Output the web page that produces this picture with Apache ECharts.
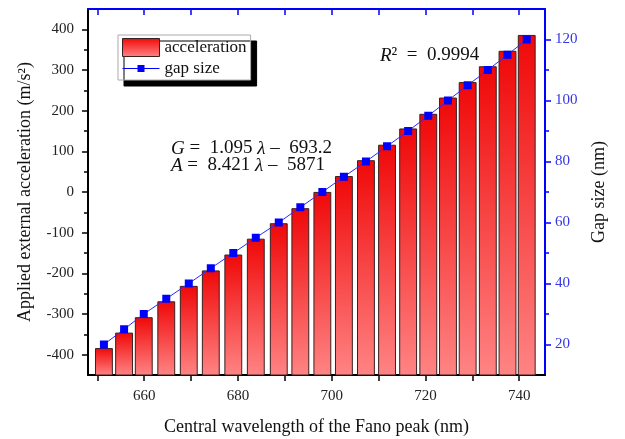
<!DOCTYPE html>
<html>
<head>
<meta charset="utf-8">
<script src="https://cdn.jsdelivr.net/npm/echarts@6/dist/echarts.min.js"></script>
<style>
html, body { margin: 0; padding: 0; background: #fff; }
#main { width: 625px; height: 439px; }
</style>
</head>
<body>
<div id="main"></div>
<script>
// data
var wavelength = [651.4, 655.7, 659.9, 664.7, 669.5, 674.2, 679.0, 683.8, 688.7, 693.3, 698.0,
                  702.6, 707.3, 711.8, 716.3, 720.6, 724.8, 729.0, 733.3, 737.5, 741.6];
var acceleration = [-385, -347, -309, -270, -232, -194, -155, -116, -78, -41, -1,
                    38, 77, 115, 155, 191, 231, 269, 308, 346, 385];
var gapSize = [20, 25, 30, 35, 40, 45, 50, 55, 60, 65, 70,
               75, 80, 85, 90, 95, 100, 105, 110, 115, 120];

var xTickLabels = [660, 680, 700, 720, 740];
var xTicks = [650, 660, 670, 680, 690, 700, 710, 720, 730, 740];
var accTickLabels = [-400, -300, -200, -100, 0, 100, 200, 300, 400];
var accMinorTicks = [-350, -250, -150, -50, 50, 150, 250, 350];
var gapTickLabels = [20, 40, 60, 80, 100, 120];
var gapMinorTicks = [30, 50, 70, 90, 110];

var serif = '"Liberation Serif", "Times New Roman", serif';
var accMin = -450, accMax = 450;
var barWidthNm = 3.6;

function barFill() {
    return new echarts.graphic.LinearGradient(0, 0, 0, 1, [
        { offset: 0, color: '#f00808' },
        { offset: 1, color: '#ff8484' }
    ]);
}

// legend icon: thin line with a small square in the middle
var lineMarkIcon = 'path://M0,8.5H15V5.5H22V8.5H37V9.5H22V12.5H15V9.5H0Z';

var chart = echarts.init(document.getElementById('main'));

var option = {
    animation: false,
    backgroundColor: '#fff',
    grid: { left: 88, right: 80, top: 9, bottom: 64, outerBoundsMode: 'none', containLabel: false },
    legend: {
        left: 118,
        top: 35,
        orient: 'vertical',
        itemWidth: 37,
        itemHeight: 18,
        itemGap: 3,
        padding: [3, 4, 3, 4],
        backgroundColor: '#fff',
        borderColor: '#aaa',
        borderWidth: 1,
        shadowColor: '#000',
        shadowBlur: 0,
        shadowOffsetX: 6,
        shadowOffsetY: 6,
        symbolKeepAspect: true,
        textStyle: { fontFamily: serif, fontSize: 17, color: '#111' },
        data: [
            { name: 'acceleration', icon: 'rect',
              itemStyle: { color: barFill(), borderColor: '#3a2020', borderWidth: 1 } },
            { name: 'gap size', icon: lineMarkIcon,
              itemStyle: { color: '#0000ff', borderWidth: 0 } }
        ]
    },
    xAxis: [
        {
            type: 'value',
            position: 'bottom',
            min: 648,
            max: 745.5,
            name: 'Central wavelength of the Fano peak (nm)',
            nameLocation: 'middle',
            nameGap: 43,
            nameTextStyle: { fontFamily: serif, fontSize: 18, color: '#111' },
            axisLine: { show: true, onZero: false, lineStyle: { color: '#000', width: 2 } },
            axisTick: { show: true, customValues: xTicks, length: 6, lineStyle: { color: '#000', width: 1.5 } },
            axisLabel: { customValues: xTickLabels, fontFamily: serif, fontSize: 15, color: '#222', margin: 14 },
            splitLine: { show: false }
        },
        {
            type: 'value',
            position: 'top',
            min: 648,
            max: 745.5,
            axisLine: { show: true, onZero: false, lineStyle: { color: '#0000ff', width: 2 } },
            axisTick: { show: true, inside: true, customValues: xTicks, length: 6, lineStyle: { color: '#0000ff', width: 1.5 } },
            axisLabel: { show: false },
            splitLine: { show: false }
        }
    ],
    yAxis: [
        {
            type: 'value',
            position: 'left',
            min: accMin,
            max: accMax,
            name: 'Applied external acceleration (m/s²)',
            nameLocation: 'middle',
            nameGap: 54,
            nameTextStyle: { fontFamily: serif, fontSize: 18, color: '#111' },
            axisLine: { show: true, onZero: false, lineStyle: { color: '#000', width: 2 } },
            axisTick: { show: true, customValues: accTickLabels, length: 6, lineStyle: { color: '#000', width: 1.5 } },
            axisLabel: { customValues: accTickLabels, fontFamily: serif, fontSize: 15, color: '#222', margin: 14 },
            splitLine: { show: false }
        },
        {
            type: 'value',
            position: 'right',
            min: 10,
            max: 130,
            name: 'Gap size (nm)',
            nameLocation: 'middle',
            nameGap: 45,
            nameTextStyle: { fontFamily: serif, fontSize: 18, color: '#111' },
            axisLine: { show: true, onZero: false, lineStyle: { color: '#0000ff', width: 2 } },
            axisTick: { show: true, customValues: gapTickLabels, length: 6, lineStyle: { color: '#0000ff', width: 1.5 } },
            axisLabel: { customValues: gapTickLabels, fontFamily: serif, fontSize: 15, color: '#3535e6', margin: 10 },
            splitLine: { show: false }
        },
        {
            type: 'value',
            position: 'left',
            min: accMin,
            max: accMax,
            axisLine: { show: false, onZero: false },
            axisTick: { show: true, customValues: accMinorTicks, length: 4, lineStyle: { color: '#000', width: 1.5 } },
            axisLabel: { show: false },
            splitLine: { show: false }
        },
        {
            type: 'value',
            position: 'right',
            min: 10,
            max: 130,
            axisLine: { show: false, onZero: false },
            axisTick: { show: true, customValues: gapMinorTicks, length: 4, lineStyle: { color: '#0000ff', width: 1.5 } },
            axisLabel: { show: false },
            splitLine: { show: false }
        }
    ],
    graphic: [
        {
            type: 'text',
            left: 380,
            top: 46,
            style: {
                text: '{i|R}²  =  0.9994',
                font: '19px ' + serif,
                fill: '#111',
                rich: { i: { fontStyle: 'italic', fontFamily: serif, fontSize: 19 } }
            }
        },
        {
            type: 'text',
            left: 171,
            top: 139,
            style: {
                text: '{i|G} =  1.095 {i|λ} –  693.2\n{i|A} =  8.421 {i|λ} –  5871',
                font: '19px ' + serif,
                fill: '#111',
                lineHeight: 17,
                rich: { i: { fontStyle: 'italic', fontFamily: serif, fontSize: 19, lineHeight: 17 } }
            }
        }
    ],
    series: [
        {
            name: 'acceleration',
            type: 'custom',
            xAxisIndex: 0,
            yAxisIndex: 0,
            encode: { x: 0, y: 1 },
            data: wavelength.map(function (w, i) { return [w, acceleration[i]]; }),
            itemStyle: { color: '#f43a3a' },
            renderItem: function (params, api) {
                var x = api.value(0);
                var top = api.coord([x, api.value(1)]);
                var base = api.coord([x, accMin]);
                var w = api.size([barWidthNm, 0])[0];
                return {
                    type: 'rect',
                    shape: { x: top[0] - w / 2, y: top[1], width: w, height: base[1] - top[1] },
                    style: { fill: barFill(), stroke: '#3a2020', lineWidth: 1 }
                };
            },
            z: 2
        },
        {
            name: 'gap size',
            type: 'line',
            xAxisIndex: 0,
            yAxisIndex: 1,
            data: wavelength.map(function (w, i) { return [w, gapSize[i]]; }),
            symbol: 'rect',
            symbolSize: 8,
            itemStyle: { color: '#0000ff' },
            lineStyle: { color: '#2a2aff', width: 1 },
            z: 5
        }
    ]
};

chart.setOption(option);
</script>
</body>
</html>
